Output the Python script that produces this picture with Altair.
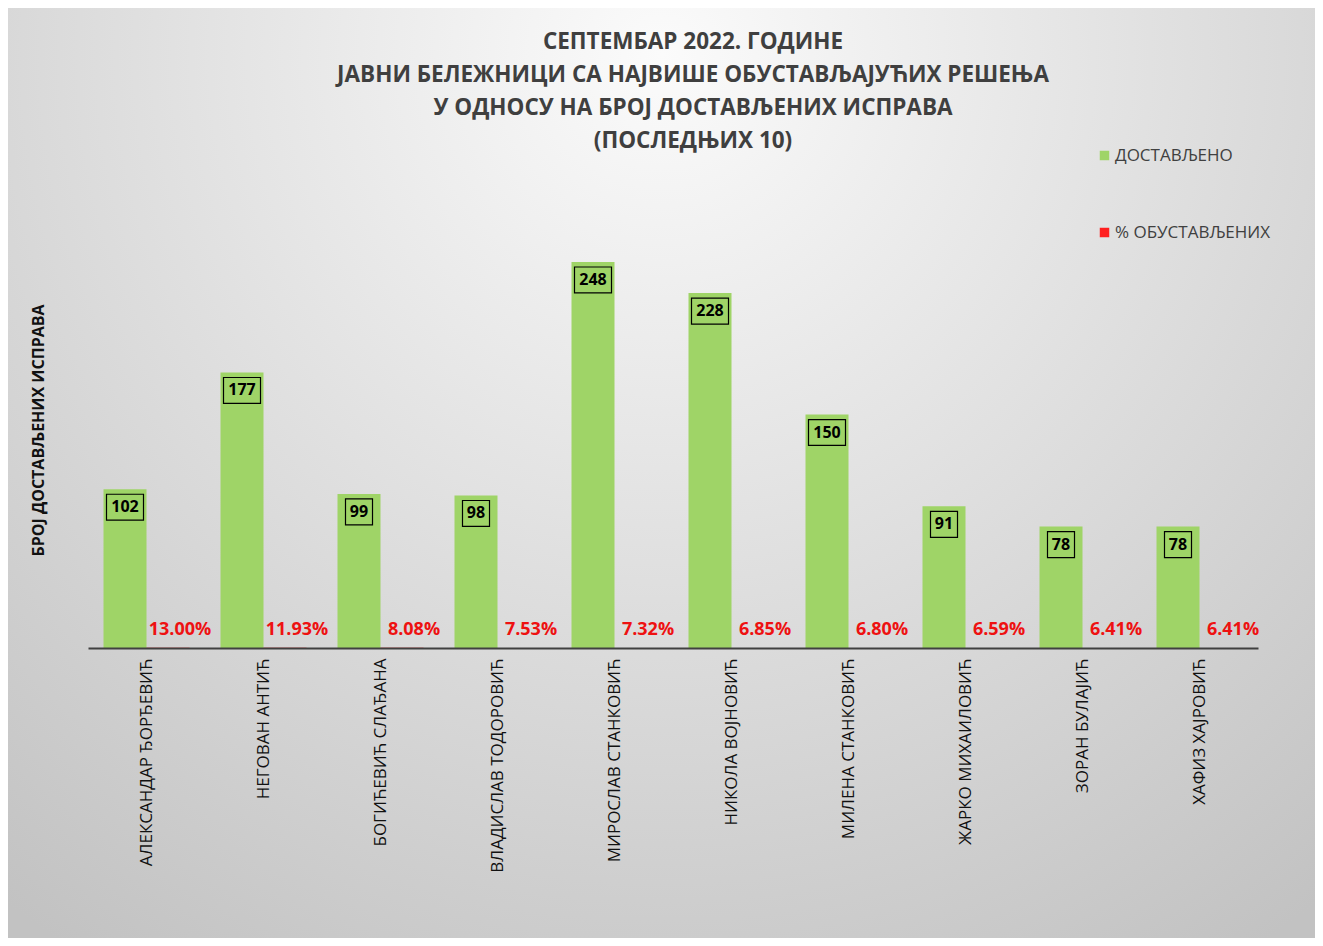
import altair as alt
import pandas as pd

title_lines = ["СЕПТЕМБАР 2022. ГОДИНЕ",
               "ЈАВНИ БЕЛЕЖНИЦИ СА НАЈВИШЕ ОБУСТАВЉАЈУЋИХ РЕШЕЊА",
               "У ОДНОСУ НА БРОЈ ДОСТАВЉЕНИХ ИСПРАВА",
               "(ПОСЛЕДЊИХ 10)"]
names = ["АЛЕКСАНДАР ЂОРЂЕВИЋ", "НЕГОВАН АНТИЋ", "БОГИЋЕВИЋ СЛАЂАНА", "ВЛАДИСЛАВ ТОДОРОВИЋ",
         "МИРОСЛАВ СТАНКОВИЋ", "НИКОЛА ВОЈНОВИЋ", "МИЛЕНА СТАНКОВИЋ", "ЖАРКО МИХАИЛОВИЋ",
         "ЗОРАН БУЛАЈИЋ", "ХАФИЗ ХАЈРОВИЋ"]
delivered = [102, 177, 99, 98, 248, 228, 150, 91, 78, 78]
pct_suspended = [13.00, 11.93, 8.08, 7.53, 7.32, 6.85, 6.80, 6.59, 6.41, 6.41]
series = ["ДОСТАВЉЕНО", "% ОБУСТАВЉЕНИХ"]
colors = ["#9fd467", "#ff1f1f"]

rows = []
for n, d, p in zip(names, delivered, pct_suspended):
    rows.append({"name": n, "series": series[0], "value": d, "label": str(d), "digits": str(len(str(d)))})
    rows.append({"name": n, "series": series[1], "value": p / 100.0, "label": f"{p:.2f}%", "digits": "0"})
df = pd.DataFrame(rows)

W, H = 1170, 467
PL, PT, PR, PB = 80, 173, 57, 290

x_enc = alt.X("name:N", sort=names, title=None,
              scale=alt.Scale(paddingInner=0.265, paddingOuter=0.1325),
              axis=alt.Axis(labelAngle=-90, labelFont="Open Sans", labelFontSize=17,
                            labelColor="#111111", labelPadding=10, ticks=False,
                            domainColor="#404040", domainWidth=2, labelLimit=400, zindex=2))
xo_enc = alt.XOffset("series:N", sort=series, scale=alt.Scale(paddingInner=0, paddingOuter=0))
y_scale = alt.Scale(domain=[0, 300], nice=False)

base = alt.Chart(df).encode(x=x_enc, xOffset=xo_enc)

bg = alt.Chart(alt.Data(values=[{}])).mark_rect(
    clip=False,
    fill=alt.RadialGradient(gradient="radial", x1=0.5, y1=0.18, x2=0.5, y2=0.18, r1=0, r2=0.82,
                            stops=[alt.GradientStop(offset=0, color="#fbfbfb"),
                                   alt.GradientStop(offset=1, color="#c2c2c2")])
).encode(x=alt.value(-PL), x2=alt.value(W + PR), y=alt.value(-PT), y2=alt.value(H + PB))

title = alt.Chart(alt.Data(values=[{}])).mark_text(
    font="Open Sans", fontSize=22.5, fontWeight="bold", color="#3f3f3f",
    align="center", baseline="top", lineHeight=33, clip=False
).encode(x=alt.value(W / 2 + 20), y=alt.value(-150), text=alt.value(title_lines))

bars = base.mark_bar().encode(
    y=alt.Y("value:Q", scale=y_scale,
            axis=alt.Axis(labels=False, ticks=False, domain=False, grid=False, zindex=2,
                          title="БРОЈ ДОСТАВЉЕНИХ ИСПРАВА", titleFont="Open Sans",
                          titleFontSize=16, titleFontWeight="bold", titleColor="#111111",
                          titlePadding=42, titleY=249)),
    color=alt.Color("series:N", sort=series,
                    scale=alt.Scale(domain=series, range=colors),
                    legend=alt.Legend(title=None, orient="none", legendX=1008, legendY=-34,
                                      direction="vertical", symbolType="square", symbolSize=90,
                                      symbolStrokeWidth=0, labelFont="Open Sans", labelFontSize=17,
                                      labelColor="#404040", rowPadding=59, labelOffset=2, zindex=2)),
)

green = base.transform_filter(alt.datum.series == series[0])
red = base.transform_filter(alt.datum.series == series[1])

path3 = "M-1,0.273L1,0.273L1,1.673L-1,1.673Z"
path2 = "M-0.73,0.273L0.73,0.273L0.73,1.673L-0.73,1.673Z"
boxes = green.mark_point(filled=False, color="#000000", strokeWidth=1.2, size=1369, opacity=1).encode(
    y=alt.Y("value:Q", scale=y_scale),
    shape=alt.Shape("digits:N", scale=alt.Scale(domain=["2", "3"], range=[path2, path3]), legend=None),
)
glabels = green.mark_text(font="Open Sans", fontSize=16, fontWeight="bold", color="#000000",
                          baseline="middle", dy=18).encode(
    y=alt.Y("value:Q", scale=y_scale), text="label:N")
rlabels = red.mark_text(font="Open Sans", fontSize=18, fontWeight="bold", color="#ee1111",
                        baseline="middle", dy=-18, dx=12).encode(
    y=alt.Y("value:Q", scale=y_scale), text="label:N")

chart = alt.layer(bg, bars, boxes, glabels, rlabels, title).properties(
    width=W, height=H,
    padding={"left": PL, "top": PT, "right": PR, "bottom": PB},
    autosize=alt.AutoSizeParams(type="none"),
    background="#d4d4d4",
).configure_view(stroke=None)

chart.save("out.html", embed_options={"renderer": "svg", "actions": False})
